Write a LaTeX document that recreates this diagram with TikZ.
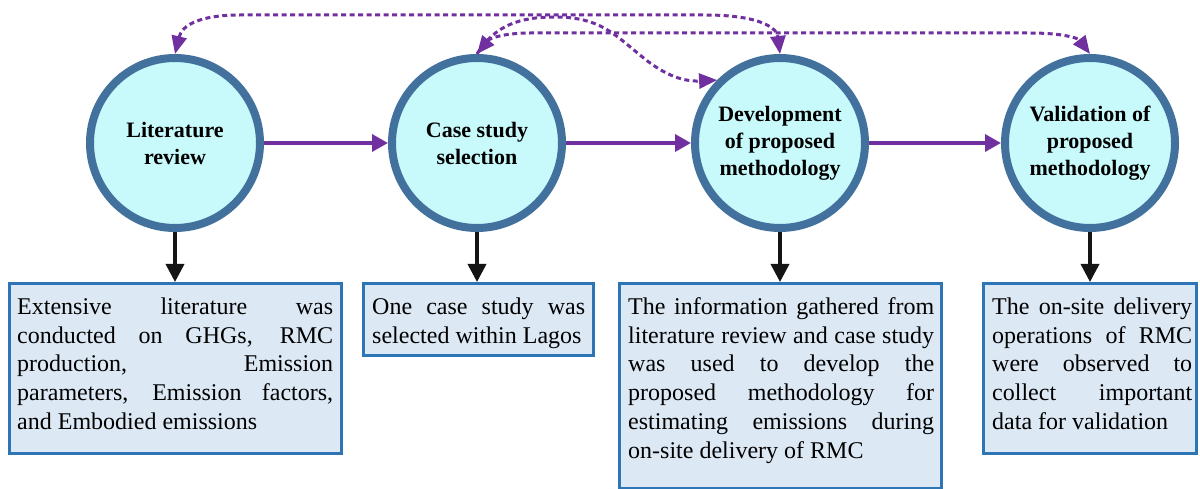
\documentclass[tikz,border=0pt]{standalone}
\usepackage{fontspec}
\setmainfont{Liberation Serif}
\usetikzlibrary{arrows.meta}

\definecolor{ringblue}{RGB}{65,113,156}
\definecolor{ringfill}{RGB}{200,250,252}
\definecolor{flowpurple}{RGB}{112,48,160}
\definecolor{boxline}{RGB}{46,117,182}
\definecolor{boxfill}{RGB}{220,232,244}

% justified notes: keep the chosen line breaks, no hyphenation
\hyphenpenalty=10000
\exhyphenpenalty=10000
\tolerance=10000
\hbadness=10000

\tikzset{
  stage/.style={circle, draw=ringblue, fill=ringfill, line width=8pt,
    minimum size=170pt, inner sep=0pt, align=center,
    font=\fontsize{22}{27}\selectfont\bfseries},
  notebox/.style={rectangle, draw=boxline, fill=boxfill, line width=3pt,
    anchor=north west, inner sep=0pt},
  notetext/.style={anchor=north west, inner sep=0pt, align=justify,
    font=\fontsize{24}{28.7}\selectfont},
  flow/.style={draw=flowpurple, line width=3.5pt, -{Triangle[length=16pt,width=17pt]}},
  godown/.style={draw=black!92, line width=3.5pt, -{Triangle[length=18pt,width=18pt]}},
  feedback/.style={draw=flowpurple, line width=3pt, dash pattern=on 5pt off 3.5pt},
  fbtip/.tip={Triangle[length=18pt,width=15pt]}
}

\begin{document}
\begin{tikzpicture}[x=1pt, y=-1pt]
\useasboundingbox (0,0) rectangle (1200,489);

% stages
\node[stage] (c1) at (175,143) {Literature\\review};
\node[stage] (c2) at (477,143) {Case study\\selection};
\node[stage] (c3) at (780,143) {Development\\of proposed\\methodology};
\node[stage] (c4) at (1090,143) {Validation of\\proposed\\methodology};

% description boxes
\node[notebox, minimum width=332pt, minimum height=170pt] (b1) at (8,282) {};
\node[notebox, minimum width=230pt, minimum height=72pt] (b2) at (362,282) {};
\node[notebox, minimum width=322pt, minimum height=205pt] (b3) at (618,282) {};
\node[notebox, minimum width=213pt, minimum height=170pt] (b4) at (982,282) {};

\node[notetext, text width=316pt] (t1) at (17,297.5)
  {Extensive literature was\linebreak conducted on GHGs, RMC\linebreak production, Emission\linebreak parameters, Emission factors,\linebreak and Embodied emissions};
\node[notetext, text width=213pt] (t2) at (372,297.5)
  {One case study was\linebreak selected within Lagos};
\node[notetext, text width=306pt] (t3) at (628,297.5)
  {The information gathered from\linebreak literature review and case study\linebreak was used to develop the\linebreak proposed methodology for\linebreak estimating emissions during\linebreak on-site delivery of RMC};
\node[notetext, text width=200pt] (t4) at (992,297.5)
  {The on-site delivery\linebreak operations of RMC\linebreak were observed to\linebreak collect important\linebreak data for validation};

% main sequence
\draw[flow] (c1) -- (c2);
\draw[flow] (c2) -- (c3);
\draw[flow] (c3) -- (c4);

% stage to description
\draw[godown] (c1.south) -- (c1.south |- b1.north);
\draw[godown] (c2.south) -- (c2.south |- b2.north);
\draw[godown] (c3.south) -- (c3.south |- b3.north);
\draw[godown] (c4.south) -- (c4.south |- b4.north);

% feedback links
\draw[feedback, fbtip-fbtip] (c1.north) .. controls (182,25) and (200,15) .. (240,15)
  -- (705,15) .. controls (760,15) and (777,28) .. (c3.north);
\draw[feedback, fbtip-fbtip] (c2.north) .. controls (490,38) and (505,33) .. (530,33)
  -- (1030,33) .. controls (1062,33) and (1078,38) .. (c4.north);
\draw[feedback, -fbtip] (c2.north) .. controls (495,25) and (520,17) .. (555,17)
  .. controls (600,17) and (615,35) .. (640,55) .. controls (660,72) and (680,82) .. (c3.135);
\end{tikzpicture}
\end{document}
